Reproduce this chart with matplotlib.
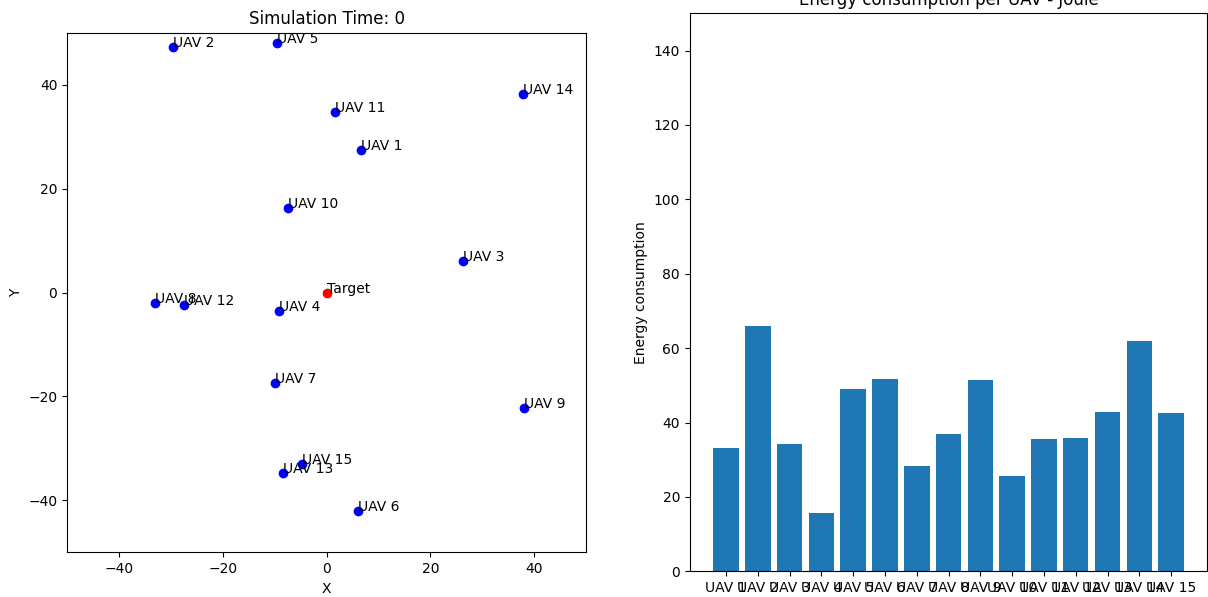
import matplotlib
matplotlib.use('Agg')
import matplotlib.pyplot as plt

# UAV positions at simulation time 0
uav_names = ['UAV 1', 'UAV 2', 'UAV 3', 'UAV 4', 'UAV 5', 'UAV 6', 'UAV 7',
             'UAV 8', 'UAV 9', 'UAV 10', 'UAV 11', 'UAV 12', 'UAV 13',
             'UAV 14', 'UAV 15']
uav_x = [6.6, -29.5, 26.3, -9.2, -9.6, 6.1, -9.9,
         -33.0, 38.1, -7.5, 1.6, -27.4, -8.4, 37.8, -4.7]
uav_y = [27.4, 47.2, 6.1, -3.6, 48.0, -42.0, -17.4,
         -2.0, -22.2, 16.3, 34.8, -2.5, -34.8, 38.2, -33.1]
target_x = 0
target_y = 0

# energy used by each UAV so far
energy = [33.1, 66.0, 34.3, 15.8, 49.0, 51.7, 28.3,
          36.8, 51.3, 25.6, 35.5, 35.8, 42.8, 61.8, 42.5]

fig = plt.figure(figsize=(12.08, 5.97), dpi=100)
ax1 = fig.add_axes([0.0555, 0.0749, 0.4296, 0.8703])
ax2 = fig.add_axes([0.5710, 0.0430, 0.4285, 0.9347])

# left: positions of the swarm and the target
for name, x, y in zip(uav_names, uav_x, uav_y):
    ax1.plot(x, y, 'bo')
    ax1.text(x, y, name)
ax1.plot(target_x, target_y, 'ro')
ax1.text(target_x, target_y, 'Target')
ax1.set_xlim(-50, 50)
ax1.set_ylim(-50, 50)
ax1.set_title('Simulation Time: 0')
ax1.set_xlabel('X')
ax1.set_ylabel('Y')

# right: energy consumption bars
ax2.bar(uav_names, energy)
ax2.set_ylim(0, 150)
ax2.set_title('Energy consumption per UAV - Joule')
ax2.set_ylabel('Energy consumption')

fig.savefig('out.png', dpi=100)
